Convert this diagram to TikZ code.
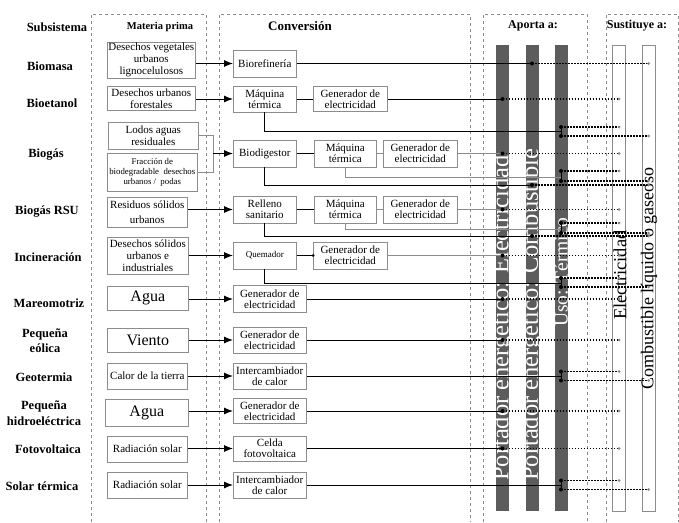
\documentclass[tikz,border=0pt]{standalone}
\usepackage{fontspec}
\setmainfont{Liberation Serif}
\usepackage{tikz}
\usetikzlibrary{shapes.geometric, arrows, arrows.meta, positioning}
\definecolor{boxgray}{gray}{0.55}
\definecolor{framegray}{gray}{0.55}
\definecolor{bardark}{gray}{0.36}

\begin{document}
\begin{tikzpicture}[x=1pt, y=-1pt, node distance=80pt]
    \tikzstyle{block} = [rectangle, draw=boxgray, fill=white, align=center, inner sep=1pt, line width=0.6pt, font=\fontsize{11}{11}\selectfont]
    \tikzstyle{source} = [block, anchor=west, font=\fontsize{11}{12}\selectfont]
    \tikzstyle{bigtext} = [font=\fontsize{16}{18}\selectfont]
    \tikzstyle{subsys} = [align=center, font=\bfseries\fontsize{12.5}{13}\selectfont]
    \tikzstyle{colhead} = [font=\bfseries\fontsize{12}{14}\selectfont]
    \tikzstyle{colbar} = [rectangle, anchor=north, minimum width=13pt, minimum height=466pt, inner sep=0pt]
    \tikzstyle{bartext} = [anchor=west, rotate=90, inner sep=0pt]
    \tikzstyle{frm} = [draw=framegray, dashed, line width=0.7pt]
    \tikzstyle{line} = [draw, -{Latex[length=9pt, width=7pt]}, line width=1pt]
    \tikzstyle{link} = [draw, line width=1pt]
    \tikzstyle{soft} = [draw=boxgray, line width=0.6pt]
    \tikzstyle{sub} = [draw, dash pattern=on 1.5pt off 1.5pt, line width=1.3pt]
    \tikzstyle{bigdot} = [circle, fill=black, inner sep=0pt, minimum size=4pt]
    \tikzstyle{enddot} = [circle, fill=boxgray, inner sep=0pt, minimum size=3pt]

    \useasboundingbox (0,0) rectangle (679,522);

    % column frames
    \draw [frm] (91,522) |- (206,14) -- (206,522);
    \draw [frm] (219,522) |- (470,14) -- (470,522);
    \draw [frm] (483,522) |- (587,14) -- (587,522);
    \draw [frm] (606,522) |- (678,14) -- (678,522);

    \node [colhead, font=\bfseries\fontsize{12.5}{14}\selectfont] at (57,27) {Subsistema};
    \node [colhead, font=\bfseries\fontsize{10.5}{12}\selectfont] at (160,27) {Materia prima};
    \node [colhead, font=\bfseries\fontsize{13}{14}\selectfont] at (300,26) {Conversión};
    \node [colhead] at (533,26) {Aporta a:};
    \node [colhead] at (637,26) {Sustituye a:};

    % subsystems
    \node [subsys] (biomasa) at (50,66) {Biomasa};
    \node [subsys] (bioetanol) at (52,103) {Bioetanol};
    \node [subsys] (biogas) at (46,155) {Biogás};
    \node [subsys] (biogasrsu) at (47,212) {Biogás RSU};
    \node [subsys] (incineracion) at (48,257) {Incineración};
    \node [subsys] (mareomotriz) at (49,303) {Mareomotriz};
    \node [subsys] (eolica) at (45,341) {Pequeña\\[2pt]eólica};
    \node [subsys] (geotermia) at (44,377) {Geotermia};
    \node [subsys] (hidro) at (44,413) {Pequeña\\[3pt]hidroeléctrica};
    \node [subsys] (fotovoltaica) at (48,449) {Fotovoltaica};
    \node [subsys] (solartermica) at (42,486) {Solar térmica};

    % raw materials
    \node [source, minimum width=88pt, minimum height=36pt] (veg) at (107,60) {Desechos vegetales\\urbanos\\lignocelulosos};
    \node [source, minimum width=88pt, minimum height=24pt] (forest) at (107,98.5) {Desechos urbanos\\forestales};
    \node [source, minimum width=90pt, minimum height=27pt] (lodos) at (108,135.5) {Lodos aguas\\residuales};
    \node [source, minimum width=90pt, minimum height=38pt, font=\fontsize{8.8}{10}\selectfont] (fraccion) at (107,172) {Fracción de\\biodegradable \ desechos\\urbanos / \ podas};
    \node [source, minimum width=80pt, minimum height=30pt] (rsu) at (107,212) {Residuos sólidos\\[3pt]urbanos};
    \node [source, minimum width=81pt, minimum height=37pt] (industrial) at (107,255.5) {Desechos sólidos\\urbanos e\\industriales};
    \node [source, bigtext, minimum width=81pt, minimum height=24pt] (agua1) at (107,298) {Agua};
    \node [source, bigtext, minimum width=81pt, minimum height=24pt] (viento) at (107,340) {Viento};
    \node [source, minimum width=80pt, minimum height=26pt] (tierra) at (107,376) {Calor de la tierra};
    \node [source, bigtext, minimum width=83pt, minimum height=27pt] (agua2) at (105,412.5) {Agua};
    \node [source, minimum width=80pt, minimum height=26pt] (rad1) at (107,449) {Radiación solar};
    \node [source, minimum width=80pt, minimum height=26pt] (rad2) at (107,485) {Radiación solar};

    % conversion
    \node [block, anchor=west, minimum width=63pt, minimum height=27pt] (biorefineria) at (233,63.5) {Biorefinería};
    \node [block, anchor=west, minimum width=63pt, minimum height=26pt] (maq1) at (233,99) {Máquina\\térmica};
    \node [block, minimum width=74pt, minimum height=25pt, right of=maq1, node distance=85.5pt] (gen1) {Generador de\\electricidad};
    \node [block, anchor=west, minimum width=63pt, minimum height=27pt] (digestor) at (233,153.5) {Biodigestor};
    \node [block, minimum width=62pt, minimum height=27pt, right of=digestor, node distance=80.5pt] (maq2) {Máquina\\térmica};
    \node [block, minimum width=74pt, minimum height=27pt, right of=maq2, node distance=75pt] (gen2) {Generador de\\electricidad};
    \node [block, anchor=west, minimum width=63pt, minimum height=27pt] (relleno) at (233,209.5) {Relleno\\sanitario};
    \node [block, minimum width=62pt, minimum height=27pt, right of=relleno, node distance=80.5pt] (maq3) {Máquina\\térmica};
    \node [block, minimum width=74pt, minimum height=27pt, right of=maq3, node distance=75pt] (gen3) {Generador de\\electricidad};
    \node [block, anchor=west, minimum width=63pt, minimum height=27pt, font=\fontsize{9}{10}\selectfont] (quemador) at (233,255.5) {Quemador};
    \node [block, minimum width=74pt, minimum height=27pt, right of=quemador, node distance=85.5pt] (gen4) {Generador de\\electricidad};
    \node [block, anchor=west, minimum width=73pt, minimum height=27pt] (gen5) at (233,299) {Generador de\\electricidad};
    \node [block, anchor=west, minimum width=73pt, minimum height=26pt] (gen6) at (233,340) {Generador de\\electricidad};
    \node [block, anchor=west, minimum width=73pt, minimum height=26pt] (inter1) at (233,376) {Intercambiador\\de calor};
    \node [block, anchor=west, minimum width=73pt, minimum height=25pt] (gen7) at (233,411) {Generador de\\electricidad};
    \node [block, anchor=west, minimum width=73pt, minimum height=25pt] (celda) at (233,448.5) {Celda\\fotovoltaica};
    \node [block, anchor=west, minimum width=73pt, minimum height=26pt] (inter2) at (233,485) {Intercambiador\\de calor};

    % bars
    \node [colbar, fill=bardark] (elec) at (502.5,45) {};
    \node [colbar, fill=bardark] (comb) at (532,45) {};
    \node [colbar, fill=bardark] (uso) at (561,45) {};
    \node [colbar, fill=white, draw=boxgray, line width=0.6pt] (selec) at (619,45) {};
    \node [colbar, fill=white, draw=boxgray, line width=0.6pt] (scomb) at (648.5,45) {};
    \node [bartext, text=white, font=\fontsize{24.5}{26}\selectfont] at (502.5,481) {Portador energético: Electricidad};
    \node [bartext, text=white, font=\fontsize{24.5}{26}\selectfont] at (532,481) {Portador energético: Combustible};
    \node [bartext, text=white, font=\fontsize{19.5}{21}\selectfont] at (561,327) {Uso: Térmico};
    \node [bartext, font=\fontsize{18.5}{20}\selectfont] at (620,320) {Electricidad};
    \node [bartext, font=\fontsize{18}{20}\selectfont] at (649,390) {Combustible líquido o gaseoso};

    % landing points on the bars
    \coordinate (join) at (213,153.5);
    \coordinate (t1) at (561,131);   \coordinate (t1e) at (561,127); \coordinate (t1c) at (561,136);
    \coordinate (t2) at (561,177);   \coordinate (t2e) at (561,171); \coordinate (t2c) at (561,181);
    \coordinate (f2) at (532,185);
    \coordinate (t3) at (561,229);   \coordinate (t3e) at (561,223); \coordinate (t3c) at (561,233);
    \coordinate (f3) at (532,236);
    \coordinate (t4) at (561,283);   \coordinate (t4e) at (561,278); \coordinate (t4c) at (561,287);
    \coordinate (t5e) at (561,371.5); \coordinate (t5c) at (561,380.5);
    \coordinate (t6e) at (561,480.5); \coordinate (t6c) at (561,489.5);

    % Biomasa
    \path [line] (biorefineria -| veg.east) -- (biorefineria);
    \path [link] (biorefineria) -- (biorefineria -| comb) node [bigdot] {};
    \path [sub] (biorefineria -| comb) -- (biorefineria -| scomb) node [enddot] {};

    % Bioetanol
    \path [line] (maq1 -| forest.east) -- (maq1);
    \path [link] (maq1) -- (gen1);
    \path [link] (gen1) -- (gen1 -| elec) node [bigdot] {};
    \path [sub] (gen1 -| elec) -- (gen1 -| selec) node [enddot] {};
    \path [link] (maq1.south) |- (t1);
    \path [link] (t1e) node [bigdot] {} -- (t1c) node [bigdot] {};
    \path [sub] (t1e) -- (t1e -| selec) node [enddot] {};
    \path [sub] (t1c) -- (t1c -| scomb) node [enddot] {};

    % Biogas
    \path [soft] (lodos.east) -| (join);
    \path [soft] (fraccion.east) -| (join);
    \path [line] (join) -- (digestor);
    \path [link] (digestor) -- (maq2);
    \path [soft] (maq2) -- (gen2);
    \path [soft] (gen2) -- (gen2 -| elec) node [bigdot] {};
    \path [sub] (gen2 -| elec) -- (gen2 -| selec) node [enddot] {};
    \path [soft] (maq2.south) |- (t2);
    \path [link] (t2e) node [bigdot] {} -- (t2c) node [bigdot] {};
    \path [sub] (t2e) -- (t2e -| selec) node [enddot] {};
    \path [sub] (t2c) -- (t2c -| scomb) node [enddot] {};
    \path [link] (digestor.south) |- (f2) node [bigdot] {};
    \path [sub] (f2) -- (f2 -| scomb) node [enddot] {};

    % Biogas RSU
    \path [line] (relleno -| rsu.east) -- (relleno);
    \path [link] (relleno) -- (maq3);
    \path [soft] (maq3) -- (gen3);
    \path [soft] (gen3) -- (gen3 -| elec) node [bigdot] {};
    \path [sub] (gen3 -| elec) -- (gen3 -| selec) node [enddot] {};
    \path [soft] (maq3.south) |- (t3);
    \path [link] (t3e) node [bigdot] {} -- (t3c) node [bigdot] {};
    \path [sub] (t3e) -- (t3e -| selec) node [enddot] {};
    \path [sub] (t3c) -- (t3c -| scomb) node [enddot] {};
    \path [link] (relleno.south) |- (f3) node [bigdot] {};
    \path [sub] (f3) -- (f3 -| scomb) node [enddot] {};

    % Incineracion
    \path [line] (quemador -| industrial.east) -- (quemador);
    \path [link] (quemador) -- (gen4.west) node [bigdot, minimum size=3pt] {};
    \path [soft] (gen4) -- (gen4 -| elec) node [bigdot] {};
    \path [sub] (gen4 -| elec) -- (gen4 -| selec) node [enddot] {};
    \path [link] (quemador.south) |- (t4);
    \path [link] (t4e) node [bigdot] {} -- (t4c) node [bigdot] {};
    \path [sub] (t4e) -- (t4e -| selec) node [enddot] {};
    \path [sub] (t4c) -- (t4c -| scomb) node [enddot] {};

    % electricity only
    \path [line] (gen5 -| agua1.east) -- (gen5);
    \path [link] (gen5) -- (gen5 -| elec) node [bigdot] {};
    \path [sub] (gen5 -| elec) -- (gen5 -| selec) node [enddot] {};
    \path [line] (gen6 -| viento.east) -- (gen6);
    \path [link] (gen6) -- (gen6 -| elec) node [bigdot] {};
    \path [sub] (gen6 -| elec) -- (gen6 -| selec) node [enddot] {};
    \path [line] (gen7 -| agua2.east) -- (gen7);
    \path [link] (gen7) -- (gen7 -| elec) node [bigdot] {};
    \path [sub] (gen7 -| elec) -- (gen7 -| selec) node [enddot] {};
    \path [line] (celda -| rad1.east) -- (celda);
    \path [link] (celda) -- (celda -| elec) node [bigdot] {};
    \path [sub] (celda -| elec) -- (celda -| selec) node [enddot] {};

    % heat only
    \path [line] (inter1 -| tierra.east) -- (inter1);
    \path [link] (inter1) -- (inter1 -| uso);
    \path [link] (t5e) node [bigdot] {} -- (t5c) node [bigdot] {};
    \path [sub] (t5e) -- (t5e -| selec) node [enddot] {};
    \path [sub] (t5c) -- (t5c -| scomb) node [enddot] {};
    \path [line] (inter2 -| rad2.east) -- (inter2);
    \path [link] (inter2) -- (inter2 -| uso);
    \path [link] (t6e) node [bigdot] {} -- (t6c) node [bigdot] {};
    \path [sub] (t6e) -- (t6e -| selec) node [enddot] {};
    \path [sub] (t6c) -- (t6c -| scomb) node [enddot] {};
\end{tikzpicture}
\end{document}
